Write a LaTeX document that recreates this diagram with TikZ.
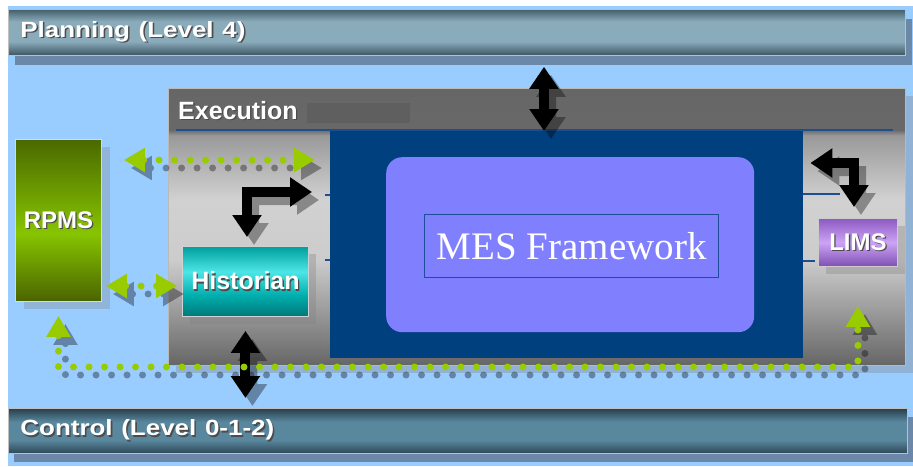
\documentclass[tikz,border=0pt]{standalone}
\usepackage{fontspec}
\usepackage{graphicx}
\setmainfont{Liberation Sans}
\newfontfamily\framefont{Liberation Serif}
\usetikzlibrary{arrows.meta,shadows}

% palette
\definecolor{skyback}{HTML}{99CCFF}
\definecolor{barshadow}{HTML}{6B88A8}
\definecolor{mesblue}{HTML}{00407F}
\definecolor{lavender}{HTML}{8080FF}
\definecolor{framerule}{HTML}{1E4E9A}
\definecolor{ruleblue}{HTML}{1F4E8C}
\definecolor{dotgreen}{HTML}{99CC00}
\definecolor{redact}{HTML}{5F5F5F}

% vertical shadings (25bp = bottom edge, 75bp = top edge of the filled shape)
\pgfdeclareverticalshading{planbar}{100bp}{rgb(0bp)=(.24,.33,.38); rgb(25bp)=(.24,.33,.38); rgb(40bp)=(.54,.67,.73); rgb(62bp)=(.54,.67,.73); rgb(75bp)=(.27,.37,.42); rgb(100bp)=(.27,.37,.42)}
\pgfdeclareverticalshading{ctrlbar}{100bp}{rgb(0bp)=(.17,.28,.34); rgb(25bp)=(.17,.28,.34); rgb(40bp)=(.35,.53,.62); rgb(60bp)=(.35,.53,.62); rgb(75bp)=(.15,.25,.30); rgb(100bp)=(.15,.25,.30)}
\pgfdeclareverticalshading{execpanel}{100bp}{rgb(0bp)=(.40,.40,.40); rgb(25bp)=(.40,.40,.40); rgb(44bp)=(.80,.80,.80); rgb(55bp)=(.82,.82,.82); rgb(66.5bp)=(.60,.60,.60); rgb(67.5bp)=(.41,.41,.41); rgb(75bp)=(.40,.40,.40); rgb(100bp)=(.40,.40,.40)}
\pgfdeclareverticalshading{rpmsshade}{100bp}{rgb(0bp)=(.29,.39,0); rgb(25bp)=(.29,.39,0); rgb(46bp)=(.53,.77,0); rgb(75bp)=(.29,.41,0); rgb(100bp)=(.29,.41,0)}
\pgfdeclareverticalshading{histshade}{100bp}{rgb(0bp)=(0,.47,.47); rgb(25bp)=(0,.47,.47); rgb(40bp)=(0,.68,.68); rgb(57bp)=(.30,.90,.90); rgb(75bp)=(0,.62,.62); rgb(100bp)=(0,.62,.62)}
\pgfdeclareverticalshading{limsshade}{100bp}{rgb(0bp)=(.50,.31,.70); rgb(25bp)=(.50,.31,.70); rgb(50bp)=(.80,.64,.96); rgb(75bp)=(.55,.35,.76); rgb(100bp)=(.55,.35,.76)}

% white lettering with a dark drop shadow
\newcommand\embossed[1]{\leavevmode\rlap{\kern1.3pt\raisebox{-1.3pt}{\color{black!70}#1}}#1}
\newcommand\barlabel[1]{\scalebox{1.18}[1]{\embossed{#1}}}

% a path drawn twice: a soft offset shadow, then the path itself
\newcommand\shadowedpath[2]{%
  \begin{scope}[transparency group, opacity=.35]
    \path (0,0) rectangle (913,466);
    \begin{scope}[transform canvas={xshift=7pt, yshift=-8pt}]
      \draw[#1, draw=black] #2;
    \end{scope}
  \end{scope}
  \draw[#1] #2;}

\tikzset{
  barbox/.style={anchor=north west, inner ysep=0pt, inner xsep=12pt, shade,
    draw=gray!50, line width=.8pt, text=white, align=left,
    font=\bfseries\fontsize{22}{24}\selectfont},
  tagbox/.style={anchor=north west, inner sep=0pt, shade, draw=#1, line width=.9pt,
    text=white, font=\bfseries\fontsize{24}{26}\selectfont},
  boxshadow/.style={drop shadow={shadow xshift=8pt, shadow yshift=-8pt, opacity=.33}},
  blockarrow/.style={draw=black, line width=10pt,
    {Triangle[length=22pt,width=28pt]}-{Triangle[length=22pt,width=28pt]}},
  dotarrow/.style={draw=dotgreen, line width=7pt, line cap=round,
    dash pattern=on 0pt off 15.5pt,
    {Triangle[length=21pt,width=23pt]}-{Triangle[length=21pt,width=23pt]}},
  tick/.style={draw=ruleblue, line width=1.6pt}
}

\begin{document}
\begin{tikzpicture}[x=1pt, y=-1pt]
\fill[white] (0,0) rectangle (913,466);
\fill[skyback] (8,6) rectangle (913,466);
\useasboundingbox (0,0) rectangle (913,466);

% level bars
\node[barbox, shading=planbar, text width=873pt, minimum height=46pt,
      drop shadow={shadow xshift=7pt, shadow yshift=-10pt, fill=barshadow, opacity=1}]
  (planning) at (8,9) {\barlabel{Planning (Level 4)}};
\node[barbox, shading=ctrlbar, text width=875pt, minimum height=45pt,
      drop shadow={shadow xshift=6pt, shadow yshift=-9pt, fill=barshadow, opacity=1}]
  (control) at (8,408) {\barlabel{Control (Level 0-1-2)}};

% execution layer
\node[anchor=north west, inner sep=0pt, shade, shading=execpanel, draw=gray!55, line width=.8pt,
      minimum width=737pt, minimum height=277pt, boxshadow] (exec) at (168,88) {};
\node[anchor=base west, inner sep=0pt, text=white, font=\bfseries\fontsize{25}{27}\selectfont]
  (exectitle) at (178,119) {\embossed{Execution}};
\fill[redact] (307,103) rectangle (410,123);
\draw[tick, line width=2pt] (176,130) -- (893,130);

% MES framework block
\node[anchor=north west, inner sep=0pt, fill=mesblue, minimum width=473pt, minimum height=227pt]
  (mes) at (330,131) {};
\node[anchor=north west, inner sep=0pt, fill=lavender, rounded corners=16pt,
      minimum width=368pt, minimum height=175pt] (core) at (386,157) {};
\node[anchor=north west, inner sep=0pt, draw=framerule, line width=1.3pt, fill=lavender,
      minimum width=294pt, minimum height=63pt, text=white,
      font=\framefont\fontsize{39}{41}\selectfont] (frame) at (424,214) {MES Framework};

% connector stubs on the framework edges
\draw[tick] (325,195) -- (330,195);
\draw[tick] (325,260) -- (330,260);
\draw[tick] (803,194) -- (840,194);
\draw[tick] (803,261) -- (815,261);

% systems
\node[tagbox=gray!40!yellow!60, shading=rpmsshade, minimum width=86pt, minimum height=162pt,
      drop shadow={shadow xshift=9pt, shadow yshift=-8pt, opacity=.3}]
  (rpms) at (15,139) {\embossed{RPMS}};
\node[tagbox=gray!35, shading=histshade, minimum width=126pt, minimum height=70pt,
      font=\bfseries\fontsize{25}{27}\selectfont, boxshadow]
  (hist) at (182,246) {\embossed{Historian}};
\node[tagbox=gray!40, shading=limsshade, minimum width=79pt, minimum height=48pt, boxshadow]
  (lims) at (818,218) {\embossed{LIMS}};

% anchor points for the connectors
\coordinate (upx) at (544,0);
\coordinate (hc) at (247,192);
\coordinate (lc) at (854,163);
\coordinate (g1) at (0,160);
\coordinate (g2) at (0,286);
\coordinate (gb) at (400,367);

% data flows
\shadowedpath{blockarrow}{([yshift=-11pt]planning.south -| upx) -- (mes.north -| upx)}
\shadowedpath{blockarrow}{([yshift=-14pt]hist.south) -- ([yshift=10pt]control.north -| hist.south)}
\shadowedpath{blockarrow}{([yshift=9pt]hist.north -| hc) -- (hc) -- ([xshift=-18pt]mes.west |- hc)}
\shadowedpath{blockarrow}{([xshift=7pt]mes.east |- lc) -- (lc) -- ([yshift=11pt]lims.north -| lc)}

\shadowedpath{dotarrow}{([xshift=22pt]rpms.east |- g1) -- ([xshift=-15pt]mes.west |- g1)}
\shadowedpath{dotarrow}{([xshift=4pt]rpms.east |- g2) -- ([xshift=-5pt]hist.west |- g2)}
\shadowedpath{dotarrow}{([yshift=-14pt]rpms.south) |- (gb) -| ([yshift=-39pt]lims.south)}
\end{tikzpicture}
\end{document}
